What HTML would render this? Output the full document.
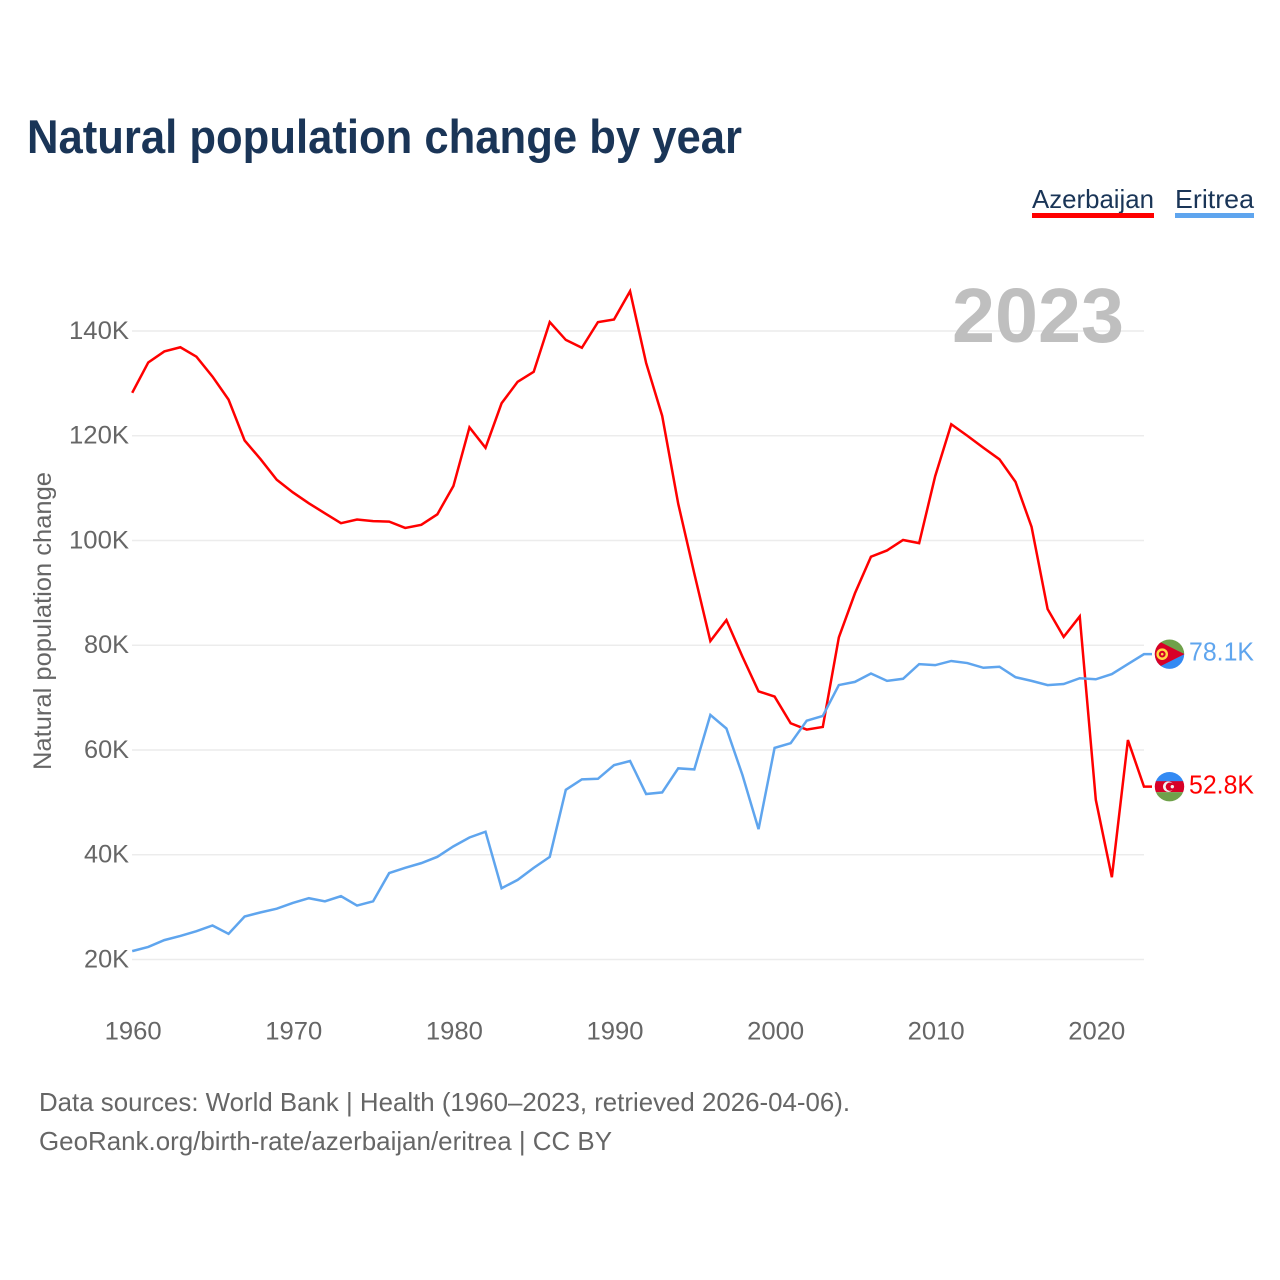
<!DOCTYPE html>
<html lang="en">
<head>
<meta charset="utf-8">
<title>Natural population change by year</title>
<style>
  html, body { margin: 0; padding: 0; background: #fff; }
  svg { display: block; font-family: "Liberation Sans", sans-serif; }
</style>
</head>
<body>
<svg id="chart" xmlns="http://www.w3.org/2000/svg" width="1280" height="1280" viewBox="0 0 1280 1280">
  <defs>
    <clipPath id="flag-clip-er"><circle cx="0" cy="0" r="14.7"></circle></clipPath>
    <clipPath id="flag-clip-az"><circle cx="0" cy="0" r="14.7"></circle></clipPath>
  </defs>
  <rect width="1280" height="1280" fill="#ffffff"></rect>

  <text x="27" y="153" font-size="47" font-weight="700" fill="#1a3557" textLength="715" lengthAdjust="spacingAndGlyphs">Natural population change by year</text>

  <g>
    <g>
      <text x="1032" y="208" font-size="26" fill="#1a3557" textLength="122" lengthAdjust="spacingAndGlyphs">Azerbaijan</text>
      <rect x="1032" y="213" width="122" height="5" fill="#ff0000"></rect>
    </g>
    <g>
      <text x="1175" y="208" font-size="26" fill="#1a3557" textLength="79" lengthAdjust="spacingAndGlyphs">Eritrea</text>
      <rect x="1175" y="213" width="79" height="5" fill="#5fa5ee"></rect>
    </g>
  </g>

  <g id="grid"></g>
  <g id="y-ticks"></g>
  <g id="x-ticks"></g>

  <text x="952" y="342" font-size="77" font-weight="700" fill="#bfbfbf" textLength="172" lengthAdjust="spacingAndGlyphs">2023</text>

  <text transform="translate(51,770) rotate(-90)" font-size="25" fill="#666666" textLength="298" lengthAdjust="spacingAndGlyphs">Natural population change</text>

  <g id="series"></g>

  <g id="flag-er">
    <g clip-path="url(#flag-clip-er)">
      <rect x="-15" y="-15" width="30" height="15" fill="#6fa14a"></rect>
      <rect x="-15" y="0" width="30" height="15" fill="#338af3"></rect>
      <polygon points="-15,-15 15,0 -15,15" fill="#d80027"></polygon>
      <circle cx="-7.3" cy="0" r="4.6" fill="none" stroke="#ffda44" stroke-width="2.4"></circle>
      <circle cx="-7.3" cy="0" r="1.3" fill="#ffda44"></circle>
    </g>
  </g>
  <g id="flag-az">
    <g clip-path="url(#flag-clip-az)">
      <rect x="-15" y="-15" width="30" height="10" fill="#338af3"></rect>
      <rect x="-15" y="-5.5" width="30" height="11" fill="#d80027"></rect>
      <rect x="-15" y="5.5" width="30" height="10" fill="#6fa14a"></rect>
      <circle cx="-1.2" cy="0" r="5.3" fill="#f0f0f0"></circle>
      <circle cx="0.4" cy="0" r="4.2" fill="#d80027"></circle>
      <circle cx="2.8" cy="0" r="1.7" fill="#f0f0f0"></circle>
    </g>
  </g>

  <text id="label-er" x="1189" font-size="26" fill="#5fa5ee" textLength="65" lengthAdjust="spacingAndGlyphs"></text>
  <text id="label-az" x="1189" font-size="26" fill="#ff0000" textLength="65" lengthAdjust="spacingAndGlyphs"></text>

  <g>
    <text x="39" y="1111" font-size="26" fill="#666666" textLength="811" lengthAdjust="spacingAndGlyphs">Data sources: World Bank | Health (1960–2023, retrieved 2026-04-06).</text>
    <text x="39" y="1150" font-size="26" fill="#666666" textLength="573" lengthAdjust="spacingAndGlyphs">GeoRank.org/birth-rate/azerbaijan/eritrea | CC BY</text>
  </g>
</svg>
<script>
const startYear = 1960;
const xTickValues = [1960, 1970, 1980, 1990, 2000, 2010, 2020];
const yTickValues = [20, 40, 60, 80, 100, 120, 140];
const azerbaijanValues = [
  128.2, 134.0, 136.1, 136.9, 135.1, 131.3, 126.9, 119.1, 115.5, 111.6,
  109.2, 107.1, 105.2, 103.3, 104.0, 103.7, 103.6, 102.4, 103.0, 105.0,
  110.4, 121.6, 117.7, 126.2, 130.3, 132.2, 141.7, 138.3, 136.8, 141.7,
  142.2, 147.6, 133.9, 123.8, 107.0, 93.7, 80.8, 84.8, 77.8, 71.2,
  70.2, 65.1, 63.9, 64.4, 81.5, 89.9, 96.9, 98.1, 100.1, 99.5,
  112.3, 122.2, 120.0, 117.7, 115.5, 111.2, 102.6, 86.9, 81.6, 85.5,
  50.5, 35.7, 61.9, 53.0
];
const eritreaValues = [
  21.6, 22.4, 23.7, 24.5, 25.4, 26.5, 24.9, 28.2, 29.0, 29.7,
  30.8, 31.7, 31.1, 32.1, 30.3, 31.1, 36.5, 37.5, 38.4, 39.6,
  41.6, 43.3, 44.4, 33.6, 35.2, 37.5, 39.6, 52.4, 54.4, 54.5,
  57.1, 57.9, 51.6, 51.9, 56.5, 56.3, 66.7, 64.1, 55.2, 44.9,
  60.4, 61.3, 65.6, 66.5, 72.4, 73.0, 74.6, 73.2, 73.6, 76.4,
  76.2, 77.0, 76.6, 75.7, 75.9, 73.9, 73.2, 72.4, 72.6, 73.7,
  73.5, 74.5, 76.4, 78.3
];
const endLabelAzerbaijan = '52.8K';
const endLabelEritrea = '78.1K';

const NS = 'http://www.w3.org/2000/svg';
function xScale(year) { return 132.2 + (year - 1960) * 16.06; }
function yScale(value) { return 959.5 - (value - 20) * 5.2375; }

const gridLayer = document.getElementById('grid');
const yLayer = document.getElementById('y-ticks');
const xLayer = document.getElementById('x-ticks');
const seriesLayer = document.getElementById('series');

yTickValues.forEach(function (v) {
  const line = document.createElementNS(NS, 'line');
  
  
  line.setAttribute('x1', 132);
  line.setAttribute('x2', 1144);
  line.setAttribute('y1', yScale(v));
  line.setAttribute('y2', yScale(v));
  line.setAttribute('stroke', '#ececec');
  line.setAttribute('stroke-width', 1.5);
  gridLayer.appendChild(line);

  const label = document.createElementNS(NS, 'text');
  
  
  label.setAttribute('x', 69 + (v < 100 ? 15 : 0));
  label.setAttribute('y', yScale(v) + 7.8);
  label.setAttribute('font-size', 25);
  label.setAttribute('fill', '#666666');
  label.setAttribute('textLength', v < 100 ? 45 : 60);
  label.setAttribute('lengthAdjust', 'spacingAndGlyphs');
  label.textContent = v + 'K';
  yLayer.appendChild(label);
});

xTickValues.forEach(function (year) {
  const label = document.createElementNS(NS, 'text');
  
  
  label.setAttribute('x', xScale(year) - 28.5 + 1);
  label.setAttribute('y', 1039.5);
  label.setAttribute('font-size', 25);
  label.setAttribute('fill', '#666666');
  label.setAttribute('textLength', 57);
  label.setAttribute('lengthAdjust', 'spacingAndGlyphs');
  label.textContent = String(year);
  xLayer.appendChild(label);
});

function buildPoints(values) {
  const pts = values.map(function (v, i) {
    return xScale(startYear + i).toFixed(2) + ',' + yScale(v).toFixed(2);
  });
  pts.push('1152,' + yScale(values[values.length - 1]).toFixed(2));
  return pts.join(' ');
}

const lineAz = document.createElementNS(NS, 'polyline');


lineAz.setAttribute('points', buildPoints(azerbaijanValues));
lineAz.setAttribute('fill', 'none');
lineAz.setAttribute('stroke', '#ff0000');
lineAz.setAttribute('stroke-width', 2.5);
seriesLayer.appendChild(lineAz);

const lineEr = document.createElementNS(NS, 'polyline');


lineEr.setAttribute('points', buildPoints(eritreaValues));
lineEr.setAttribute('fill', 'none');
lineEr.setAttribute('stroke', '#5fa5ee');
lineEr.setAttribute('stroke-width', 2.5);
seriesLayer.appendChild(lineEr);

const endYAz = yScale(azerbaijanValues[azerbaijanValues.length - 1]);
const endYEr = yScale(eritreaValues[eritreaValues.length - 1]);
document.getElementById('flag-az').setAttribute('transform', 'translate(1169.5,' + endYAz + ')');
document.getElementById('flag-er').setAttribute('transform', 'translate(1169.5,' + endYEr + ')');
const labelAz = document.getElementById('label-az');
labelAz.setAttribute('y', endYAz + 6.8);
labelAz.textContent = endLabelAzerbaijan;
const labelEr = document.getElementById('label-er');
labelEr.setAttribute('y', endYEr + 6.3);
labelEr.textContent = endLabelEritrea;
</script>
</body>
</html>
